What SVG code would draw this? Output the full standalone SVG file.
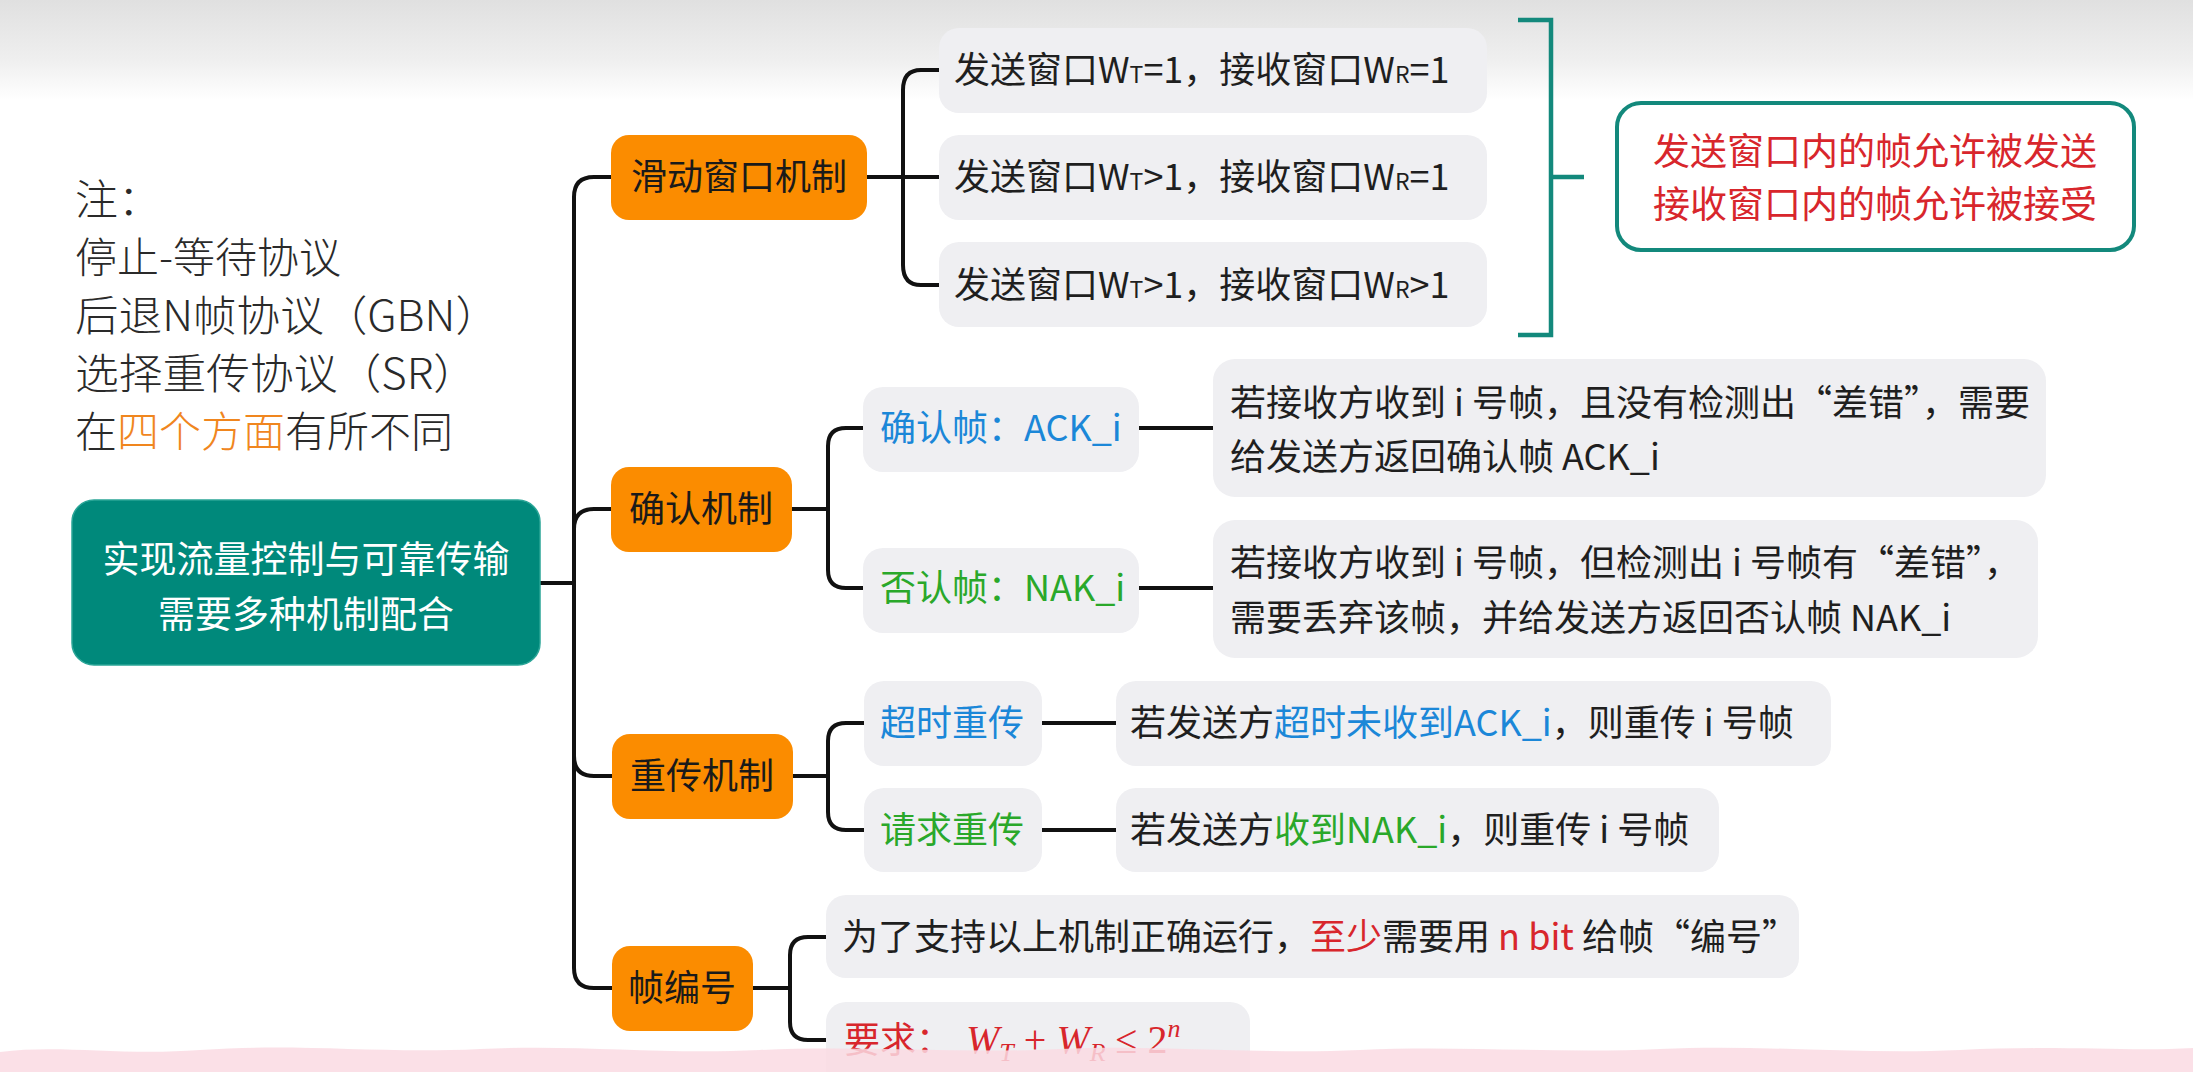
<svg xmlns="http://www.w3.org/2000/svg" width="2193" height="1072" viewBox="0 0 2193 1072">
<defs>
<linearGradient id="topband" x1="0" y1="0" x2="0" y2="1">
<stop offset="0" stop-color="#e0e0e0"/>
<stop offset="0.6" stop-color="#efefef"/>
<stop offset="1" stop-color="#ffffff"/>
</linearGradient>
<style>
text{font-family:"Noto Sans CJK SC","Noto Sans",sans-serif;}
.note{font-size:42px;fill:#2a2a2a;font-weight:300;}
.orange{fill:#f0861e;}
.branch rect{fill:#fb8c00;}
.branch text{font-size:36px;fill:#1a1a1a;text-anchor:middle;}
.leaf rect{fill:#efeff2;}
.leaf text{font-size:36px;fill:#1f1f1f;}
.leaf .blue,.blue{fill:#1b87d8;}
.leaf .green,.green{fill:#2aa82a;}
.leaf .red,.red{fill:#d8262c;}
.sub{font-size:23px;}
.math{font-family:"Liberation Serif",serif;font-size:40px;}
.mi{font-style:italic;}
.msub{font-family:"Liberation Serif",serif;font-style:italic;font-size:26px;}
.conn path{fill:none;stroke:#111;stroke-width:4;stroke-linecap:round;}
.teal{fill:none;stroke:#13897c;stroke-width:4.5;}
</style>
</defs>
<rect x="0" y="0" width="2193" height="1072" fill="#ffffff"/>
<rect x="0" y="0" width="2193" height="100" fill="url(#topband)"/>

<g id="notes">
<text class="note" x="75" y="215" textLength="86" lengthAdjust="spacingAndGlyphs">注：</text>
<text class="note" x="75" y="273">停止-等待协议</text>
<text class="note" x="75" y="331" textLength="424" lengthAdjust="spacingAndGlyphs">后退N帧协议（GBN）</text>
<text class="note" x="75" y="389" textLength="402" lengthAdjust="spacingAndGlyphs">选择重传协议（SR）</text>
<text class="note" x="75" y="447">在<tspan class="orange">四个方面</tspan>有所不同</text>
</g>

<g class="conn" id="connectors">
<path d="M540 583 H574"/>
<path d="M574 583 V197 Q574 177 594 177 H611"/>
<path d="M574 583 V529 Q574 509 594 509 H611"/>
<path d="M574 583 V756 Q574 776 594 776 H612"/>
<path d="M574 583 V968 Q574 988 594 988 H612"/>
<path d="M867 177 H903"/>
<path d="M903 177 V90 Q903 70 921 70 H939"/>
<path d="M903 177 H939"/>
<path d="M903 177 V265 Q903 285 921 285 H939"/>
<path d="M792 509 H828"/>
<path d="M828 509 V446 Q828 428 846 428 H863"/>
<path d="M828 509 V570 Q828 588 846 588 H863"/>
<path d="M1139 428 H1213"/>
<path d="M1139 588 H1213"/>
<path d="M793 776 H828"/>
<path d="M828 776 V741 Q828 723 846 723 H864"/>
<path d="M828 776 V812 Q828 830 846 830 H864"/>
<path d="M1042 723 H1116"/>
<path d="M1042 830 H1116"/>
<path d="M753 988 H790"/>
<path d="M790 988 V955 Q790 937 808 937 H826"/>
<path d="M790 988 V1022 Q790 1040 808 1040 H826"/>
</g>

<g id="root">
<rect x="72" y="500" width="468" height="165" rx="22" fill="#00897b" stroke="#2aa597" stroke-width="1.5"/>
<text x="306" y="573" font-size="37" fill="#ffffff" text-anchor="middle">实现流量控制与可靠传输</text>
<text x="306" y="628" font-size="37" fill="#ffffff" text-anchor="middle">需要多种机制配合</text>
</g>

<g id="b-sliding" class="branch"><rect x="611" y="135" width="256" height="85" rx="18"/><text x="739" y="190">滑动窗口机制</text></g>
<g id="b-ack" class="branch"><rect x="611" y="467" width="181" height="85" rx="18"/><text x="701" y="522">确认机制</text></g>
<g id="b-retrans" class="branch"><rect x="612" y="734" width="181" height="85" rx="18"/><text x="702" y="789">重传机制</text></g>
<g id="b-seq" class="branch"><rect x="612" y="946" width="141" height="85" rx="18"/><text x="682" y="1001">帧编号</text></g>

<g id="w1" class="leaf"><rect x="939" y="28" width="548" height="85" rx="20"/><text x="954" y="83">发送窗口W<tspan class="sub">T</tspan>=1，接收窗口W<tspan class="sub">R</tspan>=1</text></g>
<g id="w2" class="leaf"><rect x="939" y="135" width="548" height="85" rx="20"/><text x="954" y="190">发送窗口W<tspan class="sub">T</tspan>&gt;1，接收窗口W<tspan class="sub">R</tspan>=1</text></g>
<g id="w3" class="leaf"><rect x="939" y="242" width="548" height="85" rx="20"/><text x="954" y="298">发送窗口W<tspan class="sub">T</tspan>&gt;1，接收窗口W<tspan class="sub">R</tspan>&gt;1</text></g>

<g id="bracket">
<path class="teal" d="M1518 20 H1551 V335 H1518 M1551 177 H1584"/>
</g>

<g id="window-note">
<rect x="1617" y="103" width="517" height="147" rx="24" fill="#ffffff" stroke="#13897c" stroke-width="4"/>
<text x="1875" y="165" font-size="37" class="red" text-anchor="middle">发送窗口内的帧允许被发送</text>
<text x="1875" y="218" font-size="37" class="red" text-anchor="middle">接收窗口内的帧允许被接受</text>
</g>

<g id="ack" class="leaf"><rect x="863" y="387" width="276" height="85" rx="20"/><text x="880" y="441" class="blue">确认帧：ACK_i</text></g>
<g id="nak" class="leaf"><rect x="863" y="548" width="276" height="85" rx="20"/><text x="880" y="601" class="green">否认帧：NAK_i</text></g>

<g id="ack-desc" class="leaf"><rect x="1213" y="359" width="833" height="138" rx="22"/>
<text x="1230" y="416">若接收方收到 i 号帧，且没有检测出“差错”，需要</text>
<text x="1230" y="470">给发送方返回确认帧 ACK_i</text></g>
<g id="nak-desc" class="leaf"><rect x="1213" y="520" width="825" height="138" rx="22"/>
<text x="1230" y="576">若接收方收到 i 号帧，但检测出 i 号帧有“差错”，</text>
<text x="1230" y="631">需要丢弃该帧，并给发送方返回否认帧 NAK_i</text></g>

<g id="timeout" class="leaf"><rect x="864" y="681" width="178" height="85" rx="20"/><text x="880" y="736" class="blue">超时重传</text></g>
<g id="request" class="leaf"><rect x="864" y="788" width="178" height="84" rx="20"/><text x="880" y="843" class="green">请求重传</text></g>
<g id="timeout-desc" class="leaf"><rect x="1116" y="681" width="715" height="85" rx="20"/><text x="1130" y="736">若发送方<tspan class="blue">超时未收到ACK_i</tspan>，则重传 i 号帧</text></g>
<g id="request-desc" class="leaf"><rect x="1116" y="788" width="603" height="84" rx="20"/><text x="1130" y="843">若发送方<tspan class="green">收到NAK_i</tspan>，则重传 i 号帧</text></g>

<g id="seq-desc" class="leaf"><rect x="826" y="895" width="973" height="83" rx="20"/><text x="842" y="950">为了支持以上机制正确运行，<tspan class="red">至少</tspan>需要用 <tspan class="red">n bit</tspan> 给帧“编号”</text></g>
<g id="seq-req" class="leaf"><rect x="826" y="1002" width="424" height="90" rx="20"/>
<text x="844" y="1053" class="red">要求：<tspan class="math mi" dx="14">W</tspan><tspan class="msub" dy="8">T</tspan><tspan class="math" dy="-8"> + </tspan><tspan class="math mi">W</tspan><tspan class="msub" dy="8">R</tspan><tspan class="math" dy="-8"> ≤ 2</tspan><tspan class="msub" dy="-16">n</tspan></text></g>

<path d="M0 1052 C60 1044 120 1056 200 1050 C300 1043 380 1054 480 1049 C580 1044 660 1055 760 1050 C860 1045 960 1054 1060 1049 C1160 1044 1260 1055 1360 1050 C1460 1045 1560 1054 1660 1049 C1760 1044 1860 1055 1960 1050 C2060 1045 2130 1052 2193 1048 V1072 H0 Z" fill="#fadbe3" opacity="0.85"/>
</svg>
